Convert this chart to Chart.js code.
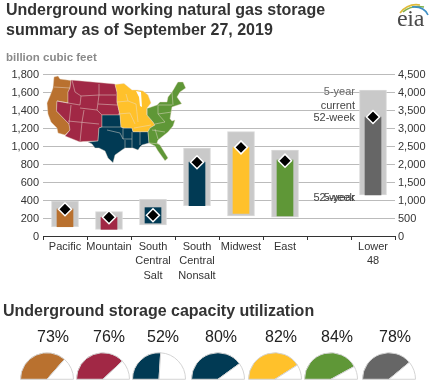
<!DOCTYPE html>
<html><head><meta charset="utf-8">
<script src="https://cdn.jsdelivr.net/npm/chart.js@4/dist/chart.umd.min.js"></script>
<style>
html,body{margin:0;padding:0;background:#fff;overflow:hidden}
#wrap{position:relative;width:433px;height:387px;font-family:"Liberation Sans",Arial,sans-serif}
#wrap>*{position:absolute}
.t{white-space:nowrap;line-height:1}
.title{font-weight:bold;font-size:16px;color:#333;left:6px}
.note{font-size:11px;color:#444;text-align:right;right:78px}
.pct{font-size:16px;color:#222;transform:translateX(-50%);top:329px}
</style></head><body>
<div id="wrap">
<canvas id="main" width="433" height="387" style="left:0;top:0"></canvas>
<svg id="map" width="433" height="387" style="left:0;top:0" stroke-linejoin="round">
<g stroke="#e8d9c8" stroke-width=".4">
<path fill="#b9712f" d="M54 77L58 76L60 79L71 80.5L70 88L68 92L68 103L57 101L56.500 111L69 124L70 130L65 135L58 133L57 128L51 122L48 114L47 103L50 96L53 88Z"/>
<path fill="#a12845" d="M71 80L115 84L117 92L117 102L120 115L102 115L102 127L99 128L98 141L83 141.500L80 142L65 136L70 130L69 124L56.500 111L57 101L68 103L68 92L70 88Z"/>
<path fill="#013a54" d="M102 115L120 115L121 127L124 128L132 128L133 131.700L148 131.700L149 143L142 145L140 147L138 150L133 148L125 148L122 150L115 155L113 162.700L108 158L105 151L99 148L95 148L92 144L88 142L98 141L99 128L102 127Z"/>
<path fill="#ffc12b" d="M115 84.500L124 83.500L132 90L137 90L143 91L148 95L151 103L147 108L147 115L153 122L155 125L150 128L148 131.700L133 131.700L132 128L124 128L121 127L120 115L117 102L117 92Z"/>
<path fill="#fff" stroke="none" d="M136 91L141 92L142 107L140 106L139 97Z"/>
<path fill="#5f9737" d="M178 82L183 82L185.700 88L180 92L177 97L181.700 103.700L172 107L170 118.700L172 121L175 120L173 126L168 132L158 140L157 143L160 145L168 158L165 160.700L158 151L155 146L149 143L148 131.700L150 128L155 125L153 122L147 115L147 108.500L157 105L160 102L167 102L168 97L172 92L174 88.700L176.700 84Z"/>
</g>
<g fill="none" stroke="#e9ddd2" stroke-width=".6" opacity=".8">
<path d="M54 87L70 88M57 101L68 103"/>
<path d="M72 80L75 92L81 96L80 105L68 103M81 96L99 95L97 110L80 108M99 84L99 95L116 95M98 104L117 105M71 105L69 124M84 110L82 122L80 142M68 121L99 124M97 110L102 115"/>
<path d="M102 127L121 127M107 130L120 133L123 139L132 139M123 128L123 139M125 140L125 148M132 132L132 148M140 132L140 145"/>
<path d="M117 102L128 101M126 94L128 101M118 114L130 113M128 101L136 104L138 122M147 109L147 115M134 128L151 125M130 113L135 124"/>
<path d="M158 105L158 114L172 112M158 105L172 105M158 114L165 122L155 124M152 130L165 132M155 129L158 139M149 143L160 144M172 92L173 105"/>
</g>
<g fill="none" stroke-width="1.600">
<path stroke="#e0bb3a" d="M400 13Q408 3 420 5"/>
<path stroke="#7db04a" d="M403 12Q411 5 424 7"/>
<path stroke="#3f8fc4" d="M412 7Q424 6 428 15"/>
</g>
</svg>
<div class="t title" style="top:2px">Underground working natural gas storage</div>
<div class="t title" style="top:22px">summary as of September 27, 2019</div>
<div class="t" style="left:6px;top:52px;font-size:11.5px;font-weight:bold;color:#8a8a8a">billion cubic feet</div>
<div class="t" style="left:397px;top:5px;font:24px 'Liberation Serif',serif;color:#4a4a4a;letter-spacing:-.3px">eia</div>
<div class="t note" style="top:86px;color:#666">5-year</div>
<div class="t note" style="top:100px">current</div>
<div class="t note" style="top:112px">52-week</div>
<div class="t note" style="top:192px">52-week</div>
<div class="t note" style="top:192px">5-year</div>
<div class="t title" style="left:3px;top:303px">Underground storage capacity utilization</div>
<div id="gauges"></div>
</div>
<script>
const categories = [["Pacific"],["Mountain"],["South","Central","Salt"],["South","Central","Nonsalt"],["Midwest"],["East"],[""],["Lower","48"]];
const regionColors = ["#b9712f","#a12845","#013a54","#013a54","#ffc12b","#5f9737","#666666","#666666"];
const fiveYearLow  = [103,74,122,337,222,208,null,null];
const fiveYearHigh = [389,270,408,978,1159,955,null,null];
const weekLow  = [103,74,144,337,252,222,null,null];
const weekHigh = [300,208,315,820,985,844,null,null];
const current  = [297,208,230,819,985,837,null,null];
const lower48FiveYear = [null,null,null,null,null,null,null,[1139,4055]];
const lower48Week     = [null,null,null,null,null,null,null,[1139,3305]];
const lower48Current  = [null,null,null,null,null,null,null,3305];
const leftTicks  = [0,200,400,600,800,1000,1200,1400,1600,1800];
const rightTicks = [0,500,1000,1500,2000,2500,3000,3500,4000,4500];
const gaugeLabels = ["73%","76%","52%","80%","82%","84%","78%"];
const utilization = [73,76,52,80,82,84,78];
const gaugeColors = ["#b9712f","#a12845","#013a54","#013a54","#ffc12b","#5f9737","#666666"];
const gaugeCenters = [47,103,159,218,275,331,389];
const labelCenters = [53,109,163,221,281,337,395];

const pair=(a,b)=>a.map((v,i)=>v==null?null:[v,b[i]]);
const font={family:'"Liberation Sans",Arial,sans-serif',size:11};
const rangeBar={type:'bar',barThickness:27,backgroundColor:'#c9c9c9',borderColor:'#d9d9d9',borderWidth:1,borderSkipped:false,grouped:false,order:3};
const weekBar={type:'bar',barThickness:16,backgroundColor:regionColors,grouped:false,order:2};
const mark={type:'line',showLine:false,pointStyle:'rectRot',pointRadius:6.5,pointBackgroundColor:'#000',pointBorderColor:'#fff',pointBorderWidth:1.5,order:1};
new Chart(document.getElementById('main'),{
  data:{labels:categories,datasets:[
    {...rangeBar,label:'5-year',data:pair(fiveYearLow,fiveYearHigh),yAxisID:'y'},
    {...rangeBar,label:'5-year L48',data:lower48FiveYear,yAxisID:'y1'},
    {...weekBar,label:'52-week',data:pair(weekLow,weekHigh),yAxisID:'y'},
    {...weekBar,label:'52-week L48',data:lower48Week,yAxisID:'y1'},
    {...mark,label:'current',data:current,yAxisID:'y'},
    {...mark,label:'current L48',data:lower48Current,yAxisID:'y1'}
  ]},
  options:{
    responsive:false,animation:false,events:[],
    layout:{padding:{top:74,left:0,right:0,bottom:0}},
    plugins:{legend:{display:false},tooltip:{enabled:false}},
    scales:{
      x:{offset:true,
        grid:{offset:true,drawOnChartArea:false,tickLength:4,color:'#333'},
        border:{color:'#333',width:1},
        ticks:{font:{...font,lineHeight:1.36},color:'#333',padding:-1,autoSkip:false,maxRotation:0,minRotation:0},
        afterFit(s){s.height=151}},
      y:{position:'left',min:0,max:1800,
        afterBuildTicks(s){s.ticks=leftTicks.map(v=>({value:v}))},
        grid:{color:'#bbbbbb',tickLength:0,lineWidth:1},border:{display:false},
        ticks:{font,color:'#333',padding:4,labelOffset:1,callback:v=>v.toLocaleString('en-US')},
        afterFit(s){s.width=43}},
      y1:{position:'right',min:0,max:4500,
        afterBuildTicks(s){s.ticks=rightTicks.map(v=>({value:v}))},
        grid:{display:false,tickLength:0},border:{display:false},
        ticks:{font,color:'#333',padding:3,labelOffset:1,callback:v=>v.toLocaleString('en-US')},
        afterFit(s){s.width=38}}
    }
  }
});

const host=document.getElementById('gauges');
utilization.forEach((u,i)=>{
  const w=54,h=28;
  const c=document.createElement('canvas');
  c.width=w;c.height=h;
  c.style.cssText=`position:absolute;left:${gaugeCenters[i]-w/2}px;top:${380-h}px`;
  host.appendChild(c);
  new Chart(c,{type:'doughnut',
    data:{datasets:[{data:[u,100-u],backgroundColor:[gaugeColors[i],'#ffffff'],borderColor:'#d4d4d4',borderWidth:1}]},
    options:{responsive:false,animation:false,events:[],cutout:0,rotation:-90,circumference:180,
      plugins:{legend:{display:false},tooltip:{enabled:false}}}});
  const d=document.createElement('div');
  d.className='t pct';d.style.left=labelCenters[i]+'px';d.textContent=gaugeLabels[i];
  d.style.position='absolute';
  host.appendChild(d);
});
</script>
</body></html>
